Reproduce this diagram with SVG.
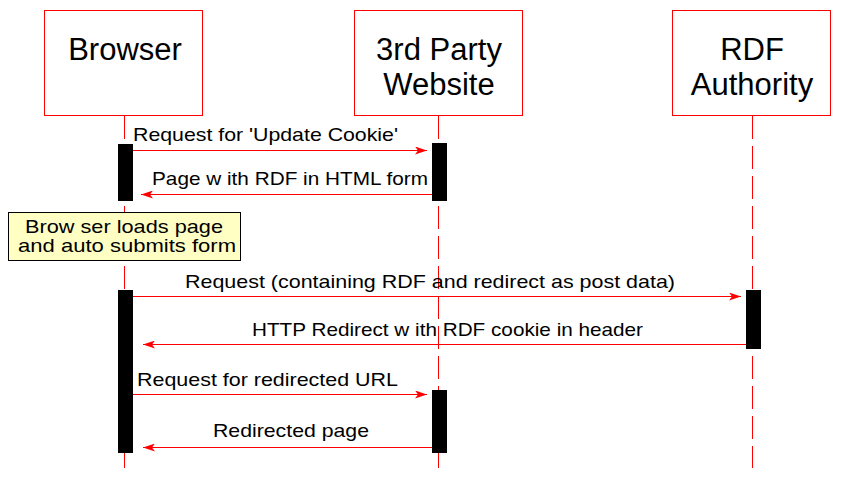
<svg xmlns="http://www.w3.org/2000/svg" width="854" height="478" viewBox="0 0 854 478">
<defs>
<style>
.box{fill:#fff;stroke:#ff0000;stroke-width:1}
.life{stroke:#ff0000;stroke-width:1;stroke-dasharray:23 7;fill:none}
.act{fill:#000}
.msg{stroke:#ff0000;stroke-width:1;fill:none;marker-end:url(#ah)}
.h{font-family:"Liberation Sans",Arial,sans-serif;font-size:31px;fill:#000;text-anchor:middle}
.t{font-family:"Liberation Sans",Arial,sans-serif;font-size:19px;fill:#000}
.note{fill:#ffffc4;stroke:#000;stroke-width:1}
</style>
<marker id="ah" viewBox="0 0 12 8" refX="12" refY="4" markerWidth="12" markerHeight="8" markerUnits="userSpaceOnUse" orient="auto">
<path d="M0,0 L12,4 L0,8 L3,4 z" fill="#ff0000"/>
</marker>
</defs>
<rect width="854" height="478" fill="#fff"/>
<g id="lifelines">
<line class="life" x1="124.5" y1="116" x2="124.5" y2="468"/>
<line class="life" x1="438.5" y1="116" x2="438.5" y2="468"/>
<line class="life" x1="752.5" y1="116" x2="752.5" y2="468"/>
</g>
<g id="browser">
<rect class="box" x="44.5" y="10.5" width="158" height="105"/>
<text class="h" x="125" y="60">Browser</text>
</g>
<g id="website">
<rect class="box" x="354.5" y="10.5" width="168" height="105"/>
<text class="h" x="439" y="60">3rd Party</text>
<text class="h" x="439" y="95">Website</text>
</g>
<g id="authority">
<rect class="box" x="672.5" y="10.5" width="158" height="105"/>
<text class="h" x="752" y="60">RDF</text>
<text class="h" x="752" y="95">Authority</text>
</g>
<g id="activations">
<rect class="act" x="118" y="144" width="15" height="57"/>
<rect class="act" x="432" y="143" width="15" height="58"/>
<rect class="act" x="118" y="290" width="15" height="163"/>
<rect class="act" x="746" y="290" width="15" height="59"/>
<rect class="act" x="432" y="390" width="15" height="63"/>
</g>
<g id="note">
<rect class="note" x="8.5" y="212.5" width="232" height="48"/>
<text class="t" x="25" y="233" textLength="198" lengthAdjust="spacingAndGlyphs">Brow ser loads page</text>
<text class="t" x="18" y="252" textLength="218" lengthAdjust="spacingAndGlyphs"> and auto submits form</text>
</g>
<g id="connectors">
<line class="msg" x1="133" y1="150.5" x2="427" y2="150.5"/>
<line class="msg" x1="432" y1="194.5" x2="141" y2="194.5"/>
<line class="msg" x1="133" y1="296.5" x2="741" y2="296.5"/>
<line class="msg" x1="746" y1="344.5" x2="143" y2="344.5"/>
<line class="msg" x1="133" y1="394.5" x2="427" y2="394.5"/>
<line class="msg" x1="432" y1="447.5" x2="143" y2="447.5"/>
</g>
<g id="labels">
<text class="t" x="133" y="141" textLength="265" lengthAdjust="spacingAndGlyphs">Request for 'Update Cookie'</text>
<text class="t" x="152" y="185" textLength="276" lengthAdjust="spacingAndGlyphs">Page w ith RDF in HTML form</text>
<text class="t" x="185" y="288" textLength="490" lengthAdjust="spacingAndGlyphs">Request (containing RDF and redirect as post data)</text>
<text class="t" x="252" y="336" textLength="391" lengthAdjust="spacingAndGlyphs">HTTP Redirect w ith RDF cookie in header</text>
<text class="t" x="137" y="386" textLength="261" lengthAdjust="spacingAndGlyphs">Request for redirected URL</text>
<text class="t" x="213" y="437" textLength="156" lengthAdjust="spacingAndGlyphs">Redirected page</text>
</g>
</svg>
